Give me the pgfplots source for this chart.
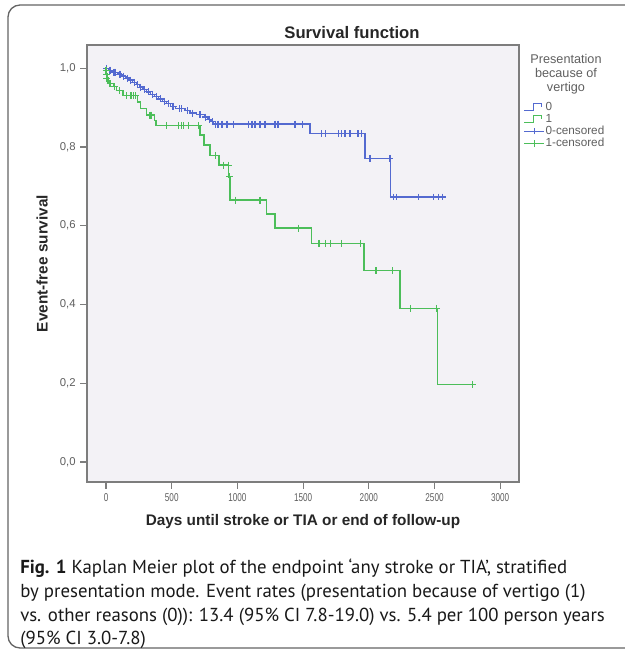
\documentclass[border=0pt]{standalone}
\usepackage{fontspec}
\setmainfont{Liberation Sans}
\newfontfamily\capfont{PT Sans}
\usepackage{pgfplots}
\usepackage{pgfplotstable}
\pgfplotsset{compat=1.18}

\definecolor{kmblue}{RGB}{84,106,208}
\definecolor{kmgreen}{RGB}{76,190,90}
\definecolor{plotbg}{RGB}{243,242,246}
\definecolor{framegray}{RGB}{125,125,125}
\definecolor{ticktext}{RGB}{95,95,95}

% Kaplan-Meier steps, presentation because of vertigo = 0
\pgfplotstableread{
d v
0 1.000
20 0.995
45 0.990
90 0.985
120 0.980
150 0.975
175 0.970
200 0.964
230 0.958
255 0.952
280 0.946
310 0.940
340 0.934
370 0.928
400 0.922
430 0.916
460 0.910
490 0.903
530 0.897
600 0.892
640 0.886
690 0.882
750 0.876
775 0.870
800 0.864
820 0.858
1553 0.834
1971 0.771
2167 0.673
2567 0.673
}\bluestep

\pgfplotstableread{
d v
5 1.000
30 0.995
60 0.990
75 0.990
100 0.985
110 0.985
135 0.980
160 0.975
185 0.970
215 0.964
240 0.958
265 0.952
295 0.946
325 0.940
355 0.934
385 0.928
415 0.922
445 0.916
475 0.910
510 0.903
560 0.897
575 0.897
620 0.892
660 0.886
710 0.882
720 0.882
760 0.876
790 0.870
810 0.864
830 0.858
852 0.858
883 0.858
921 0.858
967 0.858
1081 0.858
1111 0.858
1134 0.858
1172 0.858
1210 0.858
1286 0.858
1309 0.858
1438 0.858
1492 0.858
1642 0.834
1667 0.834
1766 0.834
1794 0.834
1819 0.834
1857 0.834
1918 0.834
1946 0.834
2009 0.771
2161 0.771
2186 0.673
2212 0.673
2377 0.673
2491 0.673
2529 0.673
2562 0.673
}\bluecens

% Kaplan-Meier steps, presentation because of vertigo = 1
\pgfplotstableread{
d v
0 1.000
3 0.985
8 0.975
15 0.961
55 0.953
80 0.944
130 0.930
240 0.914
260 0.898
310 0.881
370 0.868
380 0.855
715 0.830
745 0.805
790 0.779
860 0.754
931 0.724
944 0.665
1223 0.630
1286 0.594
1565 0.555
1963 0.486
2237 0.390
2521 0.197
2791 0.197
}\greenstep

\pgfplotstableread{
d v
0 0.995
2 0.985
6 0.975
30 0.961
65 0.953
100 0.944
157 0.930
190 0.930
206 0.930
226 0.930
335 0.881
348 0.881
462 0.855
550 0.855
571 0.855
588 0.855
626 0.855
702 0.855
830 0.779
893 0.754
931 0.754
938 0.724
982 0.665
1172 0.665
1463 0.594
1621 0.555
1672 0.555
1710 0.555
1794 0.555
1938 0.555
2055 0.486
2182 0.486
2319 0.390
2517 0.390
2791 0.197
}\greencens

\pgfplotsset{
  steplegend/.style={legend image code/.code={
    \draw[##1, line width=0.9pt] (0pt,-2.5pt) -- (7pt,-2.5pt) -- (7pt,2.5pt) -- (13pt,2.5pt) -- (13pt,0pt);}},
  censlegend/.style={legend image code/.code={
    \draw[##1, line width=0.9pt] (0pt,0pt) -- (15pt,0pt);
    \draw[##1, line width=0.9pt] (7.5pt,-2.4pt) -- (7.5pt,2.4pt);}},
}

\begin{document}
\begin{tikzpicture}
\begin{axis}[
  at={(65.25pt,-361.5pt)}, anchor=south west,
  scale only axis, width=324pt, height=327.75pt,
  xmin=-145, xmax=3143, ymin=-0.051, ymax=1.059,
  axis background/.style={fill=plotbg},
  axis line style={framegray, line width=1.1pt},
  xtick={0,500,1000,1500,2000,2500,3000},
  ytick={0,0.2,0.4,0.6,0.8,1},
  tick align=outside, xtick pos=bottom, ytick pos=left,
  major tick length=5pt,
  tick style={framegray, line width=0.9pt},
  /pgf/number format/assume math mode=true,
  ticklabel style={font=\fontsize{8.5}{10}\selectfont, text=ticktext},
  xticklabel style={xscale=0.72, /pgf/number format/set thousands separator={}},
  yticklabel style={/pgf/number format/.cd, fixed, fixed zerofill, precision=1, use comma},
  xlabel={Days until stroke or TIA or end of follow-up},
  ylabel={Event-free survival},
  xlabel style={at={(axis description cs:0.5,-0.09)}, anchor=center,
    font=\fontsize{11.5}{13}\selectfont\bfseries, text=black!85},
  ylabel style={at={(axis description cs:-0.104,0.5)}, anchor=center,
    font=\fontsize{11.5}{13}\selectfont\bfseries, text=black!85},
  legend style={at={(1.010,0.872)}, anchor=north west, draw=none, fill=none,
    font=\fontsize{8.8}{11}\selectfont, text=ticktext, inner sep=0pt,
    nodes={inner sep=0.6pt}, row sep=0.2pt},
  legend cell align=left,
  mark size=2.6pt,
]
\addplot[const plot, kmblue, line width=1pt, forget plot] table[x=d, y=v] {\bluestep};
\addplot[const plot, kmgreen, line width=1pt, forget plot] table[x=d, y=v] {\greenstep};
\addplot[only marks, mark=+, kmblue, mark options={line width=0.85pt}, forget plot] table[x=d, y=v] {\bluecens};
\addplot[only marks, mark=+, kmgreen, mark options={line width=0.85pt}, forget plot] table[x=d, y=v] {\greencens};

\addlegendimage{steplegend, kmblue}
\addlegendentry{0}
\addlegendimage{steplegend, kmgreen}
\addlegendentry{1}
\addlegendimage{censlegend, kmblue}
\addlegendentry{0-censored}
\addlegendimage{censlegend, kmgreen}
\addlegendentry{1-censored}
\end{axis}

\begin{scope}[x=0.75pt, y=-0.75pt]
  \node[font=\fontsize{12.5}{14}\selectfont\bfseries, text=black!85] at (352,33) {Survival function};
  \node[align=center, font=\fontsize{9.5}{10.3}\selectfont, text=ticktext] at (566,74)
    {Presentation\\because of\\vertigo};
  \draw[framegray!80!black, line width=1pt, rounded corners=9pt] (8,5) rectangle (720,648);
  \begin{scope}[every node/.style={anchor=base west, inner sep=0pt,
      font=\capfont\fontsize{14.1}{16}\selectfont, text=black!90}]
    \node at (20,573) {\textbf{Fig. 1} Kaplan Meier plot of the endpoint ‘any stroke or TIA’, stratified};
    \node at (20,597) {by presentation mode. Event rates (presentation because of vertigo (1)};
    \node at (20,621) {vs. other reasons (0)): 13.4 (95\% CI 7.8-19.0) vs. 5.4 per 100 person years};
    \node at (20,644) {(95\% CI 3.0-7.8)};
  \end{scope}
  \pgfresetboundingbox
  \useasboundingbox (0,0) rectangle (625,651);
\end{scope}
\end{tikzpicture}
\end{document}
